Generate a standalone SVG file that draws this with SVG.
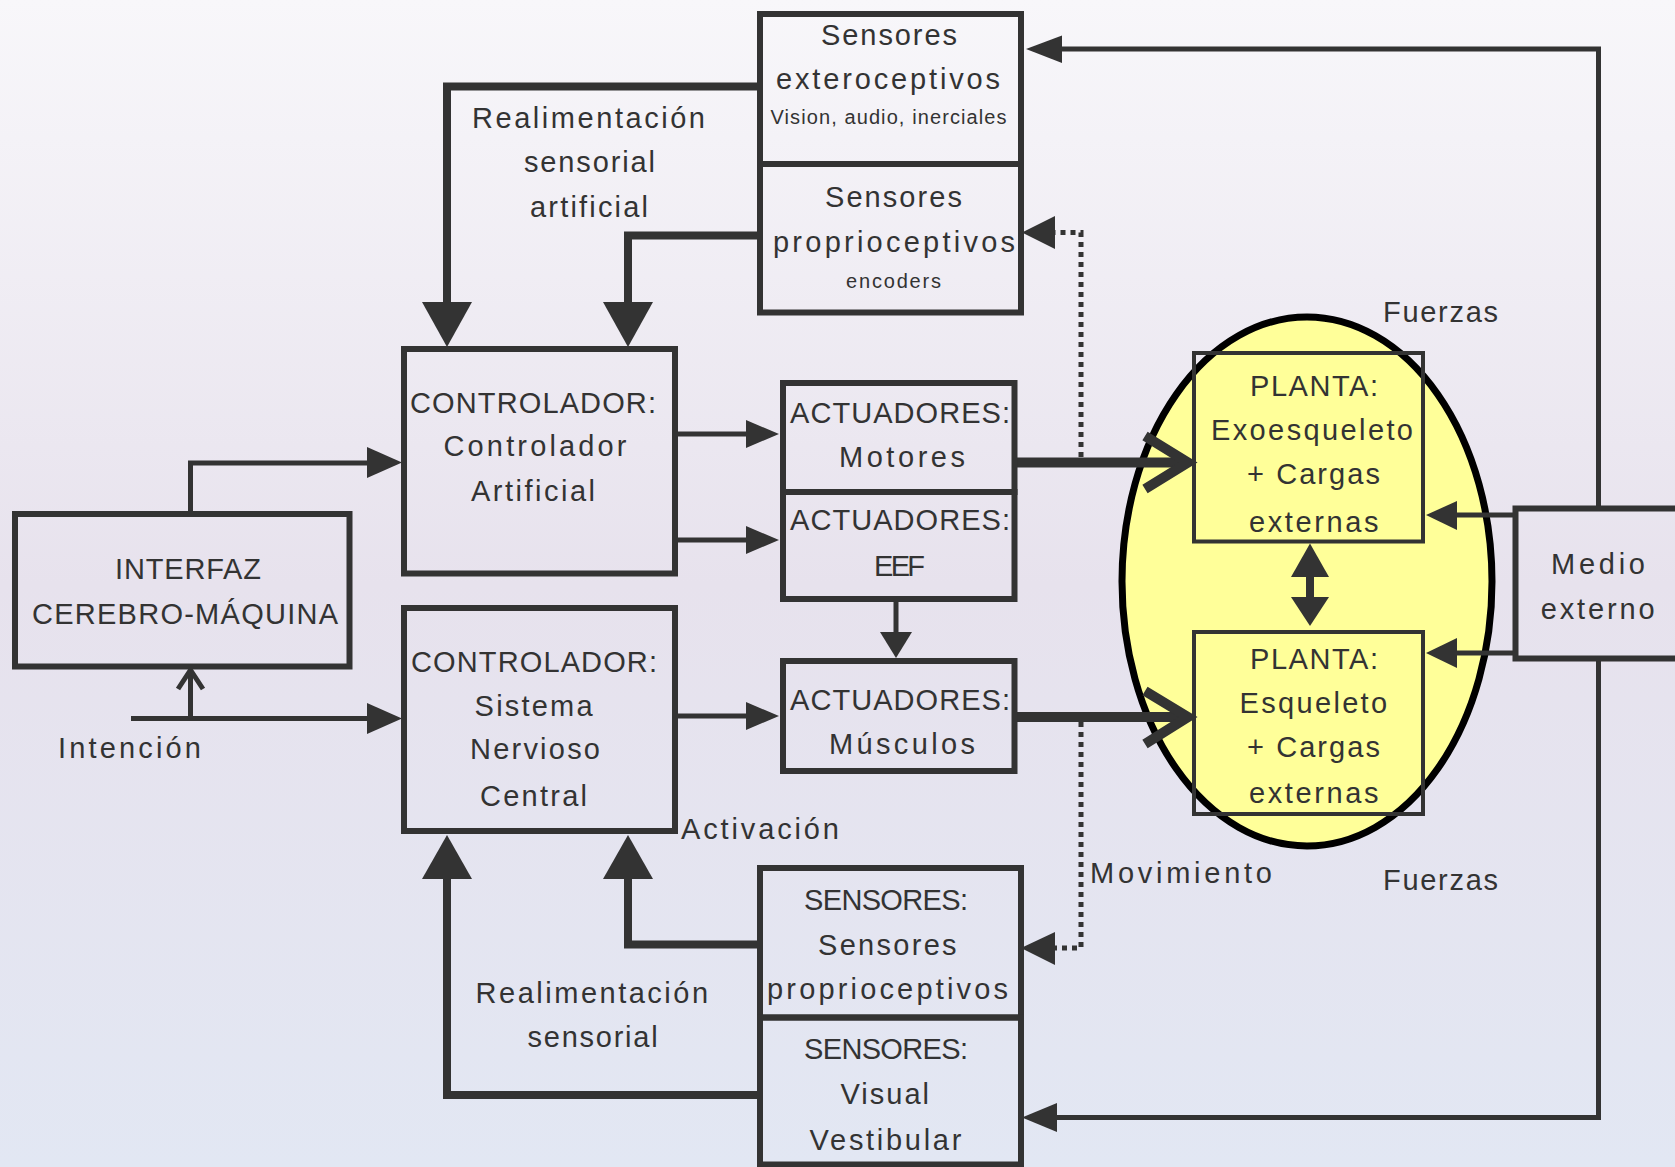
<svg xmlns="http://www.w3.org/2000/svg" width="1675" height="1167" viewBox="0 0 1675 1167">
<defs>
<linearGradient id="bg" x1="0" y1="0" x2="0" y2="1">
<stop offset="0" stop-color="#f8f7fa"/>
<stop offset="0.5" stop-color="#e7e2ed"/>
<stop offset="1" stop-color="#e2e7f3"/>
</linearGradient>
<style>
.box{fill:none;stroke:#333;stroke-width:6}
.pbox{fill:none;stroke:#333;stroke-width:4}
.t{font-family:"Liberation Sans",Arial,sans-serif;font-size:29px;fill:#333}
.s{font-size:20px}
.thick{fill:none;stroke:#333;stroke-width:8}
.thin{fill:none;stroke:#333;stroke-width:5}
.heavy{fill:none;stroke:#333;stroke-width:10}
.dot{fill:none;stroke:#333;stroke-width:5;stroke-dasharray:5 5}
.ah{fill:#333}
.chev{fill:none;stroke:#333;stroke-width:10}
.open{fill:none;stroke:#333;stroke-width:5}
</style>
</defs>
<rect x="0" y="0" width="1675" height="1167" fill="url(#bg)"/>

<g id="planta-ellipse">
<ellipse cx="1307" cy="581.5" rx="185" ry="264.5" fill="#ffff99" stroke="#000" stroke-width="7"/>
</g>

<g id="connectors">
<!-- exteroceptivos -> controlador artificial -->
<path class="thick" d="M760,86.5 H447 V303"/>
<polygon class="ah" points="422,302 472,302 447,347"/>
<!-- propioceptivos -> controlador artificial -->
<path class="thick" d="M760,235.5 H628 V303"/>
<polygon class="ah" points="603,302 653,302 628,347"/>
<!-- interfaz -> controlador artificial -->
<path class="thin" d="M190.5,514 V463 H368"/>
<polygon class="ah" points="367,447 367,478 402,462.5"/>
<!-- controlador artificial -> motores -->
<path class="thin" d="M675,434 H747"/>
<polygon class="ah" points="746,420 746,448 779,434"/>
<!-- controlador artificial -> EEF -->
<path class="thin" d="M675,540 H747"/>
<polygon class="ah" points="746,526 746,554 779,540"/>
<!-- intencion -> controlador SNC -->
<path class="thin" d="M131,718.5 H368"/>
<polygon class="ah" points="367,703 367,734 402,718.5"/>
<!-- intencion -> interfaz -->
<path class="thin" d="M190.5,718.5 V670"/>
<polyline class="open" points="178,689 190.5,670 203,689"/>
<!-- SNC -> musculos -->
<path class="thin" d="M675,716 H747"/>
<polygon class="ah" points="746,702 746,730 779,716"/>
<!-- EEF -> musculos -->
<path class="thin" d="M896,599 V633"/>
<polygon class="ah" points="880,632 912,632 896,658"/>
<!-- motores -> planta exo -->
<path class="heavy" d="M1014,462.5 H1186"/>
<polyline class="chev" points="1145,436 1188,462.5 1145,489"/>
<!-- musculos -> planta esqueleto -->
<path class="heavy" d="M1014,717 H1186"/>
<polyline class="chev" points="1145,691 1188,717 1145,744"/>
<!-- movimiento dotted -> propioceptivos -->
<path class="dot" d="M1081,457 V232.5 H1055"/>
<polygon class="ah" points="1055,216 1055,249 1022,232.5"/>
<!-- movimiento dotted -> SENSORES propioceptivos -->
<path class="dot" d="M1081,722 V948 H1055"/>
<polygon class="ah" points="1055,932 1055,965 1021,948"/>
<!-- medio -> exteroceptivos -->
<path class="thin" d="M1598.5,508 V49 H1060"/>
<polygon class="ah" points="1062,35.5 1062,63 1026,49"/>
<!-- medio -> planta exo -->
<path class="thin" d="M1515,515 H1455"/>
<polygon class="ah" points="1457,501 1457,530 1426,515"/>
<!-- medio -> planta esqueleto -->
<path class="thin" d="M1515,653 H1455"/>
<polygon class="ah" points="1457,638 1457,668 1426,653"/>
<!-- medio -> visual vestibular -->
<path class="thin" d="M1598.5,658 V1117.5 H1055"/>
<polygon class="ah" points="1057,1103 1057,1132 1022,1117.5"/>
<!-- SENSORES propioceptivos -> SNC -->
<path class="thick" d="M760,944.5 H628 V878"/>
<polygon class="ah" points="603,879 653,879 628,835"/>
<!-- visual vestibular -> SNC -->
<path class="thick" d="M760,1095 H447 V878"/>
<polygon class="ah" points="422,879 472,879 447,835"/>
<!-- planta <-> planta -->
<path class="thick" d="M1310,575 V599"/>
<polygon class="ah" points="1291,577 1329,577 1310,543.5"/>
<polygon class="ah" points="1291,597 1329,597 1310,626"/>
</g>

<g id="labels">
<text class="t" x="472" y="128" textLength="233" lengthAdjust="spacing">Realimentación</text>
<text class="t" x="524" y="172" textLength="131" lengthAdjust="spacing">sensorial</text>
<text class="t" x="530" y="217" textLength="118" lengthAdjust="spacing">artificial</text>
<text class="t" x="475.6" y="1002.5" textLength="232.5" lengthAdjust="spacing">Realimentación</text>
<text class="t" x="527.6" y="1047" textLength="130" lengthAdjust="spacing">sensorial</text>
<text class="t" x="58" y="758" textLength="143" lengthAdjust="spacing">Intención</text>
<text class="t" x="681" y="839" textLength="158" lengthAdjust="spacing">Activación</text>
<text class="t" x="1090" y="882.5" textLength="182" lengthAdjust="spacing">Movimiento</text>
<text class="t" x="1383" y="321.5" textLength="115" lengthAdjust="spacing">Fuerzas</text>
<text class="t" x="1383" y="890" textLength="115" lengthAdjust="spacing">Fuerzas</text>
</g>

<g id="sensores-exteroceptivos">
<rect class="box" x="760" y="14" width="261" height="150"/>
<text class="t" x="821" y="45" textLength="136" lengthAdjust="spacing">Sensores</text>
<text class="t" x="776" y="89" textLength="224" lengthAdjust="spacing">exteroceptivos</text>
<text class="t s" x="770.5" y="124" textLength="236" lengthAdjust="spacing">Vision, audio, inerciales</text>
</g>

<g id="sensores-propioceptivos">
<rect class="box" x="760" y="164" width="261" height="148.5"/>
<text class="t" x="825" y="207" textLength="137" lengthAdjust="spacing">Sensores</text>
<text class="t" x="773" y="252" textLength="242" lengthAdjust="spacing">proprioceptivos</text>
<text class="t s" x="846" y="288" textLength="95" lengthAdjust="spacing">encoders</text>
</g>

<g id="controlador-artificial">
<rect class="box" x="404" y="349" width="271" height="224.5"/>
<text class="t" x="410" y="412.5" textLength="246" lengthAdjust="spacing">CONTROLADOR:</text>
<text class="t" x="443.5" y="456" textLength="183" lengthAdjust="spacing">Controlador</text>
<text class="t" x="471" y="501" textLength="124" lengthAdjust="spacing">Artificial</text>
</g>

<g id="interfaz">
<rect class="box" x="15" y="514" width="334.5" height="152.5"/>
<text class="t" x="115" y="579" textLength="146" lengthAdjust="spacing">INTERFAZ</text>
<text class="t" x="32" y="624" textLength="306" lengthAdjust="spacing">CEREBRO-MÁQUINA</text>
</g>

<g id="controlador-snc">
<rect class="box" x="404" y="608" width="271" height="223"/>
<text class="t" x="411" y="671.5" textLength="246" lengthAdjust="spacing">CONTROLADOR:</text>
<text class="t" x="474.6" y="716" textLength="118" lengthAdjust="spacing">Sistema</text>
<text class="t" x="470" y="759" textLength="130" lengthAdjust="spacing">Nervioso</text>
<text class="t" x="480" y="806" textLength="107" lengthAdjust="spacing">Central</text>
</g>

<g id="actuadores-motores">
<rect class="box" x="783" y="383" width="231.5" height="109"/>
<text class="t" x="790" y="423" textLength="220" lengthAdjust="spacing">ACTUADORES:</text>
<text class="t" x="839" y="467" textLength="126" lengthAdjust="spacing">Motores</text>
</g>

<g id="actuadores-eef">
<rect class="box" x="783" y="492" width="231.5" height="107"/>
<text class="t" x="790" y="530" textLength="220" lengthAdjust="spacing">ACTUADORES:</text>
<text class="t" x="874" y="575.5" textLength="51" lengthAdjust="spacing">EEF</text>
</g>

<g id="actuadores-musculos">
<rect class="box" x="783" y="661" width="231.5" height="110"/>
<text class="t" x="790" y="710" textLength="220" lengthAdjust="spacing">ACTUADORES:</text>
<text class="t" x="829" y="753.6" textLength="146" lengthAdjust="spacing">Músculos</text>
</g>

<g id="sensores-sensores-propioceptivos">
<rect class="box" x="760" y="868" width="261" height="149.5"/>
<text class="t" x="804" y="909.6" textLength="164" lengthAdjust="spacing">SENSORES:</text>
<text class="t" x="818" y="955" textLength="138.6" lengthAdjust="spacing">Sensores</text>
<text class="t" x="767" y="999" textLength="241" lengthAdjust="spacing">proprioceptivos</text>
</g>

<g id="sensores-visual">
<rect class="box" x="760" y="1017.5" width="261" height="147"/>
<text class="t" x="804" y="1059" textLength="164" lengthAdjust="spacing">SENSORES:</text>
<text class="t" x="840.5" y="1104" textLength="88.5" lengthAdjust="spacing">Visual</text>
<text class="t" x="809.6" y="1149.6" textLength="151.7" lengthAdjust="spacing">Vestibular</text>
</g>

<g id="planta-exoesqueleto">
<rect class="pbox" x="1194" y="353" width="229" height="188.5"/>
<text class="t" x="1250" y="396" textLength="128" lengthAdjust="spacing">PLANTA:</text>
<text class="t" x="1211" y="440" textLength="202" lengthAdjust="spacing">Exoesqueleto</text>
<text class="t" x="1247" y="484" textLength="133" lengthAdjust="spacing">+ Cargas</text>
<text class="t" x="1249" y="532" textLength="129.5" lengthAdjust="spacing">externas</text>
</g>

<g id="planta-esqueleto">
<rect class="pbox" x="1194" y="632" width="229" height="182"/>
<text class="t" x="1250" y="669" textLength="128" lengthAdjust="spacing">PLANTA:</text>
<text class="t" x="1239.6" y="713" textLength="147.5" lengthAdjust="spacing">Esqueleto</text>
<text class="t" x="1247" y="757.4" textLength="133" lengthAdjust="spacing">+ Cargas</text>
<text class="t" x="1249" y="803" textLength="129.5" lengthAdjust="spacing">externas</text>
</g>

<g id="medio-externo">
<rect class="box" x="1515.5" y="508.5" width="200" height="150"/>
<text class="t" x="1551" y="574" textLength="94" lengthAdjust="spacing">Medio</text>
<text class="t" x="1540.7" y="619" textLength="114" lengthAdjust="spacing">externo</text>
</g>
</svg>
